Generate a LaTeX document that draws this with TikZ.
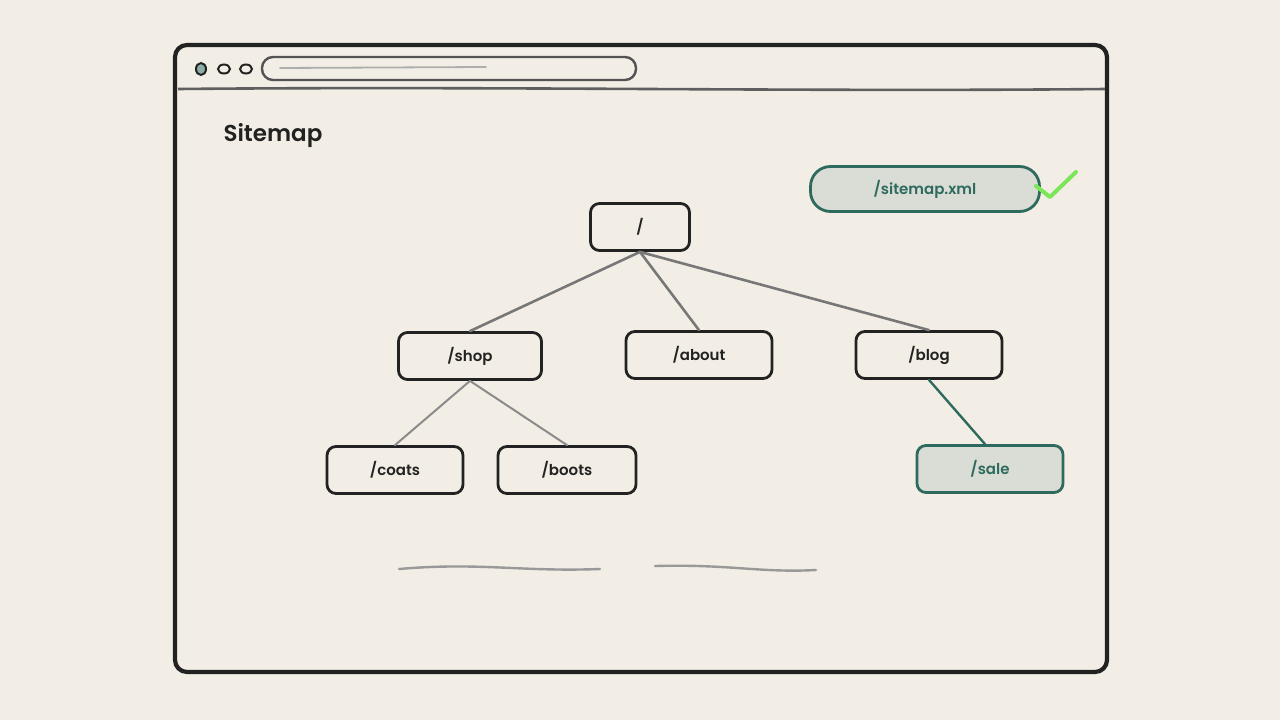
\documentclass[tikz,border=0pt]{standalone}
\usepackage{fontspec}
\setmainfont{Poppins}[BoldFont={Poppins SemiBold}]
\usetikzlibrary{positioning}
\definecolor{paper}{HTML}{F3EEE5}
\definecolor{ink}{HTML}{222222}
\definecolor{sitegreen}{HTML}{2E6B5E}
\definecolor{sitefill}{HTML}{DADDD6}
\definecolor{tick}{HTML}{7CE65A}
\definecolor{linkgray}{HTML}{777777}

\begin{document}
\begin{tikzpicture}[x=1pt, y=-1pt,
                    page/.style={draw=ink, line width=4.2pt, rounded corners=12pt},
                    box/.style={draw=ink, line width=2.8pt, rounded corners=9pt, minimum height=47pt, text=ink, font=\fontsize{15}{18}\selectfont\bfseries},
                    donebox/.style={box, draw=sitegreen, fill=sitefill, text=sitegreen},
                    link/.style={draw=linkgray, line width=2.6pt, line cap=round},
                    sublink/.style={draw=linkgray!85, line width=2pt, line cap=round},
                    donelink/.style={draw=sitegreen, line width=2.4pt, line cap=round},
                ]
                \useasboundingbox[fill=paper] (0,0) rectangle (1280,720);
                %Window
                \draw[page] (175,45) rectangle (1107,672);
                \draw[draw=linkgray!80!black, line width=2.6pt] (178,89) .. controls (500,86) and (800,92) .. (1105,89);
                \draw[draw=ink, line width=2pt, fill=sitegreen!55!white] (201,69) ellipse (5pt and 6pt);
                \draw[draw=ink, line width=2pt] (224,69) ellipse (6pt and 4.5pt);
                \draw[draw=ink, line width=2pt] (246,69) ellipse (6pt and 4.5pt);
                \draw[draw=linkgray!70!black, line width=2.4pt, rounded corners=11pt] (262,57) rectangle (636,80);
                \draw[draw=linkgray!60, line width=1.8pt, line cap=round] (280,68) -- (486,67);
                \node[text=ink, font=\fontsize{23}{26}\selectfont\bfseries] (title) at (273,136) {Sitemap};
                %Nodes
                \node[donebox, rounded corners=20pt, minimum width=229pt, minimum height=45pt] (xml) at (925,189) {/sitemap.xml};
                \node[box, minimum width=99pt]  (root)  at (640,227) {/};
                \node[box, minimum width=143pt] (shop)  at (470,356) {/shop};
                \node[box, minimum width=146pt] (about) at (699,355) {/about};
                \node[box, minimum width=146pt] (blog)  at (929,355) {/blog};
                \node[box, minimum width=136pt] (coats) at (395,470) {/coats};
                \node[box, minimum width=138pt] (boots) at (567,470) {/boots};
                \node[donebox, minimum width=146pt] (sale) at (990,469) {/sale};
                %Tick
                \coordinate (tickstart) at (1036,186);
                \draw[draw=tick, line width=4pt, line cap=round, line join=round] (tickstart) -- (1050,197) -- (1076,172);
                %Links
                \draw[link] (root.south) -- (shop.north);
                \draw[link] (root.south) -- (about.north);
                \draw[link] (root.south) -- (blog.north);
                \draw[sublink] (shop.south) -- (coats.north);
                \draw[sublink] (shop.south) -- (boots.north);
                \draw[donelink] (blog.south) -- ([xshift=-5pt]sale.north);
                %Footer
                \draw[draw=linkgray!75, line width=2.4pt, line cap=round] (399,569) .. controls (480,562) and (520,572) .. (600,569);
                \draw[draw=linkgray!75, line width=2.4pt, line cap=round] (655,566) .. controls (730,564) and (760,573) .. (816,570);
            \end{tikzpicture}
\end{document}
